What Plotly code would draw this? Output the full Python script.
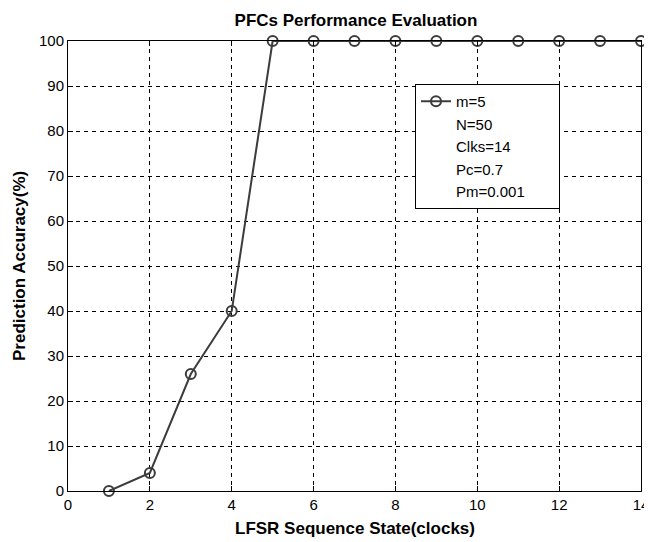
import plotly.graph_objects as go

x_states = [1, 2, 3, 4, 5, 6, 7, 8, 9, 10, 11, 12, 13, 14]
accuracy = [0, 4, 26, 40, 100, 100, 100, 100, 100, 100, 100, 100, 100, 100]
legend_lines = ["m=5", "N=50", "Clks=14", "Pc=0.7", "Pm=0.001"]
x_ticks = [0, 2, 4, 6, 8, 10, 12, 14]
y_ticks = [0, 10, 20, 30, 40, 50, 60, 70, 80, 90, 100]

font_fam = "Liberation Sans, Arial, sans-serif"
OFF = 8  # default page body margin
PAD = "\u00a0" * 7  # widens the legend box

fig = go.Figure()
fig.add_trace(go.Scatter(
    x=x_states, y=accuracy, mode="lines+markers", name=legend_lines[0],
    line=dict(color="#3c3c3c", width=2),
    marker=dict(symbol="circle-open", size=10, color="#3c3c3c", line=dict(width=2)),
    cliponaxis=False,
))
for i, txt in enumerate(legend_lines[1:]):
    fig.add_trace(go.Scatter(
        x=[None], y=[None], mode="lines",
        name=txt + (PAD if i == len(legend_lines) - 2 else ""),
        line=dict(color="rgba(0,0,0,0)", width=0),
    ))

axis_common = dict(
    showline=True, linecolor="black", linewidth=1, mirror="ticks",
    showgrid=True, gridcolor="black", griddash="4px,4px", gridwidth=1,
    ticks="inside", ticklen=5, tickcolor="black",
    zeroline=False, automargin=False,
    tickfont=dict(family=font_fam, size=15, color="black"),
)

W, H = 652 - OFF, 542 - OFF
fig.update_layout(
    width=W, height=H,
    margin=dict(l=68 - OFF, r=11, t=41 - OFF, b=51),
    paper_bgcolor="white", plot_bgcolor="white",
    title=dict(text="<b>PFCs Performance Evaluation</b>", x=(356 - OFF) / W, xanchor="center",
               xref="container", yref="container", y=1 - (20 - OFF) / H, yanchor="middle",
               font=dict(family=font_fam, size=17, color="black")),
    xaxis=dict(range=[0, 14], tickvals=x_ticks, **axis_common),
    yaxis=dict(range=[0, 100], tickvals=y_ticks, **axis_common),
    legend=dict(x=(415 - 68) / 573, y=(491 - 84) / 450, xanchor="left", yanchor="top",
                bgcolor="white", bordercolor="black", borderwidth=1,
                font=dict(family=font_fam, size=15, color="black"),
                tracegroupgap=0, itemwidth=30),
    showlegend=True,
    annotations=[
        dict(text="<b>LFSR Sequence State(clocks)</b>", xref="paper", yref="paper",
             x=0.5, y=-(528 - 491) / 450, xanchor="center", yanchor="middle",
             showarrow=False, font=dict(family=font_fam, size=17, color="black")),
        dict(text="<b>Prediction Accuracy(%)</b>", xref="paper", yref="paper",
             x=-(68 - 19) / 573, y=0.5, xanchor="center", yanchor="middle",
             textangle=-90, showarrow=False,
             font=dict(family=font_fam, size=17, color="black")),
    ],
)

fig.write_html("out.html")
